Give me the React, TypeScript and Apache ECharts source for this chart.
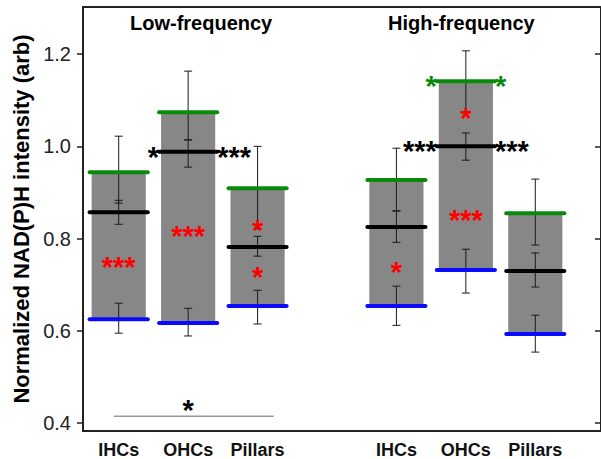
import React, { useEffect, useRef } from "react";
import * as echarts from "echarts";

// ---- data ----
const categories = ["IHCs", "OHCs", "Pillars", "", "IHCs", "OHCs", "Pillars"];
const groupTitles = ["Low-frequency", "High-frequency"];
const yTickValues = [0.4, 0.6, 0.8, 1.0, 1.2];
const Y_MIN = 0.383;
const Y_MAX = 1.302;

const upperValues = [0.944, 1.074, 0.909, null, 0.927, 1.141, 0.855];
const meanValues = [0.857, 0.988, 0.782, null, 0.825, 1.0, 0.73];
const lowerValues = [0.625, 0.617, 0.654, null, 0.654, 0.732, 0.593];

const upperErrLow = [0.877, 1.014, 0.821, null, 0.86, 1.075, 0.786];
const upperErrHigh = [1.022, 1.163, 1.0, null, 0.996, 1.207, 0.929];
const meanErrLow = [0.831, 0.955, 0.762, null, 0.792, 0.97, 0.695];
const meanErrHigh = [0.883, 1.014, 0.805, null, 0.86, 1.029, 0.769];
const lowerErrLow = [0.595, 0.589, 0.615, null, 0.612, 0.682, 0.554];
const lowerErrHigh = [0.66, 0.649, 0.688, null, 0.697, 0.777, 0.634];

// significance markers: category index, value, text, colour, horizontal side
const annotations = [
  { cat: 0, value: 0.749, text: "***", color: "red", side: 0 },
  { cat: 1, value: 0.816, text: "***", color: "red", side: 0 },
  { cat: 1, value: 0.988, text: "*", color: "black", side: -1 },
  { cat: 1, value: 0.988, text: "***", color: "black", side: 1 },
  { cat: 2, value: 0.83, text: "*", color: "red", side: 0 },
  { cat: 2, value: 0.727, text: "*", color: "red", side: 0 },
  { cat: 4, value: 0.738, text: "*", color: "red", side: 0 },
  { cat: 5, value: 1.072, text: "*", color: "red", side: 0 },
  { cat: 5, value: 0.851, text: "***", color: "red", side: 0 },
  { cat: 5, value: 1.141, text: "*", color: "green", side: -1 },
  { cat: 5, value: 1.141, text: "*", color: "green", side: 1 },
  { cat: 5, value: 1.0, text: "***", color: "black", side: -1 },
  { cat: 5, value: 1.0, text: "***", color: "black", side: 1 },
];
const significanceBar = { from: 0, to: 2, value: 0.415, text: "*" };

const COLORS: Record<string, string> = {
  red: "#ff0000",
  black: "#000000",
  green: "#0a8a0a",
  blue: "#0a0aff",
  bar: "#878787",
  err: "#1a1a1a",
  axis: "#222222",
};
const FONT = "'Liberation Sans', Arial, sans-serif";
const STAR_SIZE = 29;
const STAR_SHIFT = 5;

export default function App() {
  const ref = useRef<HTMLDivElement>(null);
  useEffect(() => {
    if (!ref.current) return;
    const chart = echarts.init(ref.current, null, { renderer: "svg" });

    const barData = categories
      .map((_, i) => i)
      .filter((i) => upperValues[i] !== null)
      .map((i) => [
        i,
        upperValues[i],
        meanValues[i],
        lowerValues[i],
        upperErrLow[i],
        upperErrHigh[i],
        meanErrLow[i],
        meanErrHigh[i],
        lowerErrLow[i],
        lowerErrHigh[i],
      ]);

    const errBar = (api: any, x: number, lo: number, hi: number) => {
      const yLo = api.coord([0, lo])[1];
      const yHi = api.coord([0, hi])[1];
      const s = { stroke: COLORS.err, lineWidth: 1 };
      return [
        { type: "line", shape: { x1: x, y1: yLo, x2: x, y2: yHi }, style: s },
        { type: "line", shape: { x1: x - 4, y1: yLo, x2: x + 4, y2: yLo }, style: s },
        { type: "line", shape: { x1: x - 4, y1: yHi, x2: x + 4, y2: yHi }, style: s },
      ];
    };

    const option: any = {
      animation: false,
      grid: [
        { left: 84, right: 31, top: 7, bottom: 28 },
        { left: 83, right: -1, top: 7, bottom: 28, show: true, borderColor: COLORS.axis, borderWidth: 2, backgroundColor: "transparent" },
      ],
      xAxis: [
        {
          type: "category",
          gridIndex: 0,
          data: categories,
          axisLine: { show: false },
          axisTick: { show: false },
          axisLabel: { interval: 0, fontSize: 18, fontWeight: "bold", color: "#111", margin: 10, fontFamily: FONT },
          splitLine: { show: false },
        },
        {
          type: "value",
          gridIndex: 1,
          min: 0,
          max: 1,
          axisLine: { show: true, lineStyle: { color: COLORS.axis, width: 2 } },
          axisTick: { show: false },
          axisLabel: { show: false },
          splitLine: { show: false },
        },
      ],
      yAxis: [
        { type: "value", gridIndex: 0, min: Y_MIN, max: Y_MAX, show: false },
        {
          type: "value",
          gridIndex: 1,
          position: "left",
          min: Y_MIN,
          max: Y_MAX,
          axisLine: { show: true, lineStyle: { color: COLORS.axis, width: 2 } },
          axisTick: { show: true, length: 6, customValues: yTickValues, lineStyle: { color: COLORS.axis, width: 1.5 } },
          axisLabel: {
            customValues: yTickValues,
            fontSize: 20,
            color: "#222",
            margin: 12,
            fontFamily: FONT,
            formatter: (v: number) => v.toFixed(1),
          },
          splitLine: { show: false },
          name: "Normalized NAD(P)H intensity (arb)",
          nameLocation: "middle",
          nameGap: 50,
          nameTextStyle: { fontSize: 22, fontWeight: "bold", color: "#000", fontFamily: FONT },
        },
        {
          type: "value",
          gridIndex: 1,
          position: "right",
          min: Y_MIN,
          max: Y_MAX,
          axisLine: { show: true, lineStyle: { color: COLORS.axis, width: 2 } },
          axisTick: { show: true, inside: true, length: 6, customValues: yTickValues, lineStyle: { color: COLORS.axis, width: 1.5 } },
          axisLabel: { show: false },
          splitLine: { show: false },
        },
      ],
      series: [
        {
          type: "custom",
          xAxisIndex: 0,
          yAxisIndex: 0,
          data: barData,
          renderItem: (params: any, api: any) => {
            const idx = api.value(0);
            const cx = api.coord([idx, api.value(1)])[0];
            const yUp = api.coord([idx, api.value(1)])[1];
            const yMean = api.coord([idx, api.value(2)])[1];
            const yLow = api.coord([idx, api.value(3)])[1];
            const bw = api.size([1, 0])[0] * 0.78;
            const lw = bw / 2 + 2;
            const thick = (y: number, c: string) => ({
              type: "line",
              shape: { x1: cx - lw, y1: y, x2: cx + lw, y2: y },
              style: { stroke: c, lineWidth: 4, lineCap: "round" },
            });
            return {
              type: "group",
              children: [
                { type: "rect", shape: { x: cx - bw / 2, y: yUp, width: bw, height: yLow - yUp }, style: { fill: COLORS.bar } },
                ...errBar(api, cx, api.value(4), api.value(5)),
                ...errBar(api, cx, api.value(6), api.value(7)),
                ...errBar(api, cx, api.value(8), api.value(9)),
                thick(yUp, COLORS.green),
                thick(yMean, COLORS.black),
                thick(yLow, COLORS.blue),
              ],
            };
          },
        },
        {
          type: "custom",
          xAxisIndex: 0,
          yAxisIndex: 0,
          data: annotations.map((a) => [a.cat, a.value]),
          renderItem: (params: any, api: any) => {
            const a = annotations[params.dataIndex];
            const [cx, cy] = api.coord([a.cat, a.value]);
            const bw = api.size([1, 0])[0] * 0.78;
            let x = cx;
            let align = "center";
            if (a.side === -1) {
              x = cx - bw / 2 - 2;
              align = "right";
            } else if (a.side === 1) {
              x = cx + bw / 2 + 2;
              align = "left";
            }
            return {
              type: "text",
              x,
              y: cy + STAR_SHIFT,
              style: {
                text: a.text,
                fill: COLORS[a.color],
                fontSize: STAR_SIZE,
                fontWeight: "bold",
                fontFamily: FONT,
                align,
                verticalAlign: "middle",
              },
            };
          },
        },
        {
          type: "custom",
          xAxisIndex: 0,
          yAxisIndex: 0,
          data: [[significanceBar.from, significanceBar.value]],
          renderItem: (params: any, api: any) => {
            const [x1, y] = api.coord([significanceBar.from, significanceBar.value]);
            const x2 = api.coord([significanceBar.to, significanceBar.value])[0];
            return {
              type: "group",
              children: [
                { type: "line", shape: { x1: x1 - 5, y1: y, x2: x2 + 16, y2: y }, style: { stroke: "#999", lineWidth: 1.5 } },
                {
                  type: "text",
                  x: (x1 + x2) / 2,
                  y: y - 11 + STAR_SHIFT,
                  style: { text: significanceBar.text, fill: "#000", fontSize: STAR_SIZE, fontWeight: "bold", fontFamily: FONT, align: "center", verticalAlign: "middle" },
                },
              ],
            };
          },
        },
      ],
      graphic: [
        { type: "text", left: 203 - 73, top: 13, style: { text: groupTitles[0], fontSize: 20, fontWeight: "bold", fill: "#000", fontFamily: FONT } },
        { type: "text", left: 463 - 75, top: 13, style: { text: groupTitles[1], fontSize: 20, fontWeight: "bold", fill: "#000", fontFamily: FONT } },
      ],
    };
    chart.setOption(option);
    return () => chart.dispose();
  }, []);
  return <div ref={ref} style={{ position: "fixed", left: 0, top: 0, width: 601, height: 459, background: "#fff" }} />;
}
